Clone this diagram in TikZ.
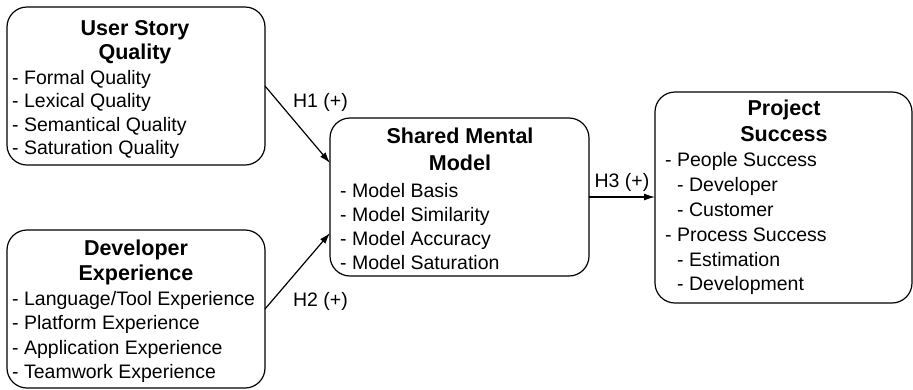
\documentclass[tikz,border=0pt]{standalone}
\usepackage{fontspec}
\setmainfont{Liberation Sans}
\usetikzlibrary{arrows.meta}
\begin{document}
\begin{tikzpicture}[x=1pt,y=-1pt,
  box/.style={draw, line width=1.2pt, rounded corners=20pt, inner sep=0pt, outer sep=0pt},
  itemtext/.style={anchor=base west, inner sep=0pt, font=\fontsize{19.5}{24}\selectfont},
  titletext/.style={anchor=base, inner sep=0pt, font=\bfseries\fontsize{21.5}{26}\selectfont},
  lbl/.style={anchor=base, inner sep=0pt, font=\fontsize{19.5}{24}\selectfont},
  conn/.style={line width=1.2pt, -{Latex[length=11pt,width=7pt]}}]
\useasboundingbox (0,0) rectangle (913,389);
% boxes
\node[box, minimum width=258pt, minimum height=158pt] (us) at (136,86) {};
\node[box, minimum width=258pt, minimum height=158pt] (de) at (136,309) {};
\node[box, minimum width=259pt, minimum height=158pt] (sm) at (459.5,197) {};
\node[box, minimum width=257pt, minimum height=211pt] (ps) at (783.5,197.5) {};
% User Story Quality
\node[titletext] (ust1) at (135,35) {User Story};
\node[titletext] (ust2) at (135,59) {Quality};
\foreach \t [count=\i] in {Formal Quality, Lexical Quality, Semantical Quality, Saturation Quality}
  \node[itemtext] (usi\i) at (12,{84+23.5*(\i-1)}) {- \t};
% Developer Experience
\node[titletext] (det1) at (136,255) {Developer};
\node[titletext] (det2) at (136,280) {Experience};
\foreach \t [count=\i] in {Language/Tool Experience, Platform Experience, Application Experience, Teamwork Experience}
  \node[itemtext] (dei\i) at (12,{305+24.5*(\i-1)}) {- \t};
% Shared Mental Model
\node[titletext] (smt1) at (460,143) {Shared Mental};
\node[titletext] (smt2) at (460,170) {Model};
\foreach \t [count=\i] in {Model Basis, Model Similarity, Model Accuracy, Model Saturation}
  \node[itemtext] (smi\i) at (340,{197+24*(\i-1)}) {- \t};
% Project Success
\node[titletext] (pst1) at (784,115) {Project};
\node[titletext] (pst2) at (784,141) {Success};
\node[itemtext] (psi1) at (665,166) {- People Success};
\node[itemtext] (psi2) at (677,191) {- Developer};
\node[itemtext] (psi3) at (677,216) {- Customer};
\node[itemtext] (psi4) at (665,241) {- Process Success};
\node[itemtext] (psi5) at (677,266) {- Estimation};
\node[itemtext] (psi6) at (677,290) {- Development};
% connectors
\draw[conn] (us.east) -- ([yshift=34pt]sm.west);
\draw[conn] (de.east) -- ([yshift=-36pt]sm.west);
\draw[conn] (sm.east) -- (sm.east -| ps.west);
% labels
\node[lbl] (h1) at (320.5,107) {H1 (+)};
\node[lbl] (h2) at (320.5,306) {H2 (+)};
\node[lbl] (h3) at (622,187) {H3 (+)};
\end{tikzpicture}
\end{document}
